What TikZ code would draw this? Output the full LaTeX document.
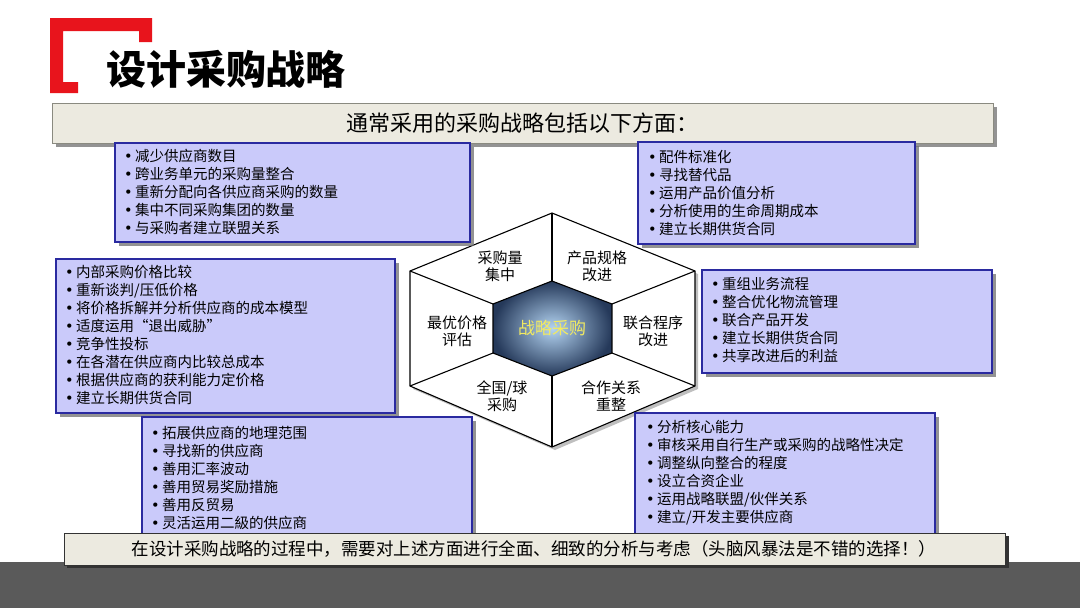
\documentclass[tikz,border=0pt]{standalone}
\usepackage{fontspec}
\usetikzlibrary{calc}
\setmainfont{Noto Sans CJK SC}
\newfontfamily\bulletfont{DejaVu Sans}
\newcommand{\bul}{{\bulletfont •}\,}
\definecolor{brandred}{HTML}{E8141C}
\definecolor{bandgray}{HTML}{5A5A5A}
\definecolor{bannerfill}{HTML}{ECEAE0}
\definecolor{bannerline}{HTML}{8A8A80}
\definecolor{boxfill}{HTML}{CACAFA}
\definecolor{boxline}{HTML}{2A2AA0}
\definecolor{shadowgray}{HTML}{707070}
\definecolor{hexdark}{HTML}{25395A}
\definecolor{hexlight}{HTML}{B4D4F2}
\definecolor{hextext}{HTML}{F2EA60}
\tikzset{
  boxshadow/.style={fill=shadowgray, opacity=0.75},
  listbox/.style={draw=boxline, fill=boxfill, line width=1.4pt},
  listtext/.style={anchor=north west, inner sep=0pt, align=left,
    font=\fontsize{14.5}{18}\selectfont},
  banner/.style={draw=bannerline, fill=bannerfill, line width=0.6pt},
  hexlabel/.style={align=center, inner sep=0pt, font=\fontsize{15}{17}\selectfont},
  hexline/.style={draw=black, line width=1.1pt, line join=miter},
}
\begin{document}
\begin{tikzpicture}[x=1pt,y=-1pt]
\useasboundingbox (0,0) rectangle (1080,608);
\fill[white] (0,0) rectangle (1080,608);
\fill[bandgray] (0,562) rectangle (1080,608);

% red bracket
\fill[brandred] (50,18) -- (152,18) -- (152,42) -- (139,42) -- (139,31) -- (63,31)
  -- (63,82) -- (78,82) -- (78,93) -- (50,93) -- cycle;

% title
\node[text=black, font=\fontsize{40}{44}\selectfont\bfseries, inner sep=0pt] (title) at (226,69) {设计采购战略};

% top banner
\fill[boxshadow] (56,107) rectangle (997,147);
\draw[banner] (52,103) rectangle (993,143);
\node[font=\fontsize{22}{24}\selectfont, inner sep=0pt] (banner) at (522,123) {通常采用的采购战略包括以下方面：};

% hexagon
\coordinate (o1) at (552,213);
\coordinate (o2) at (695,271);
\coordinate (o3) at (695,386);
\coordinate (o4) at (552,447);
\coordinate (o5) at (410,386);
\coordinate (o6) at (410,271);
\coordinate (i1) at (552,281);
\coordinate (i2) at (612,304);
\coordinate (i3) at (612,353);
\coordinate (i4) at (552,376);
\coordinate (i5) at (493,353);
\coordinate (i6) at (493,304);
\fill[black!25] ($(o1)+(3,3)$) -- ($(o2)+(3,3)$) -- ($(o3)+(3,3)$) -- ($(o4)+(3,3)$) -- ($(o5)+(3,3)$) -- ($(o6)+(3,3)$) -- cycle;
\filldraw[hexline, fill=white] (o1) -- (o2) -- (o3) -- (o4) -- (o5) -- (o6) -- cycle;
\shade[inner color=hexlight, outer color=hexdark] (i1) -- (i2) -- (i3) -- (i4) -- (i5) -- (i6) -- cycle;
\draw[hexline] (i1) -- (i2) -- (i3) -- (i4) -- (i5) -- (i6) -- cycle;
\foreach \k in {1,...,6} { \draw[hexline] (i\k) -- (o\k); }
\node[text=hextext, font=\fontsize{17}{19}\selectfont, inner sep=0pt] (core) at (552,328) {战略采购};
\node[hexlabel] (h1) at (500,266) {采购量\\集中};
\node[hexlabel] (h2) at (597,266) {产品规格\\改进};
\node[hexlabel] (h3) at (457,331) {最优价格\\评估};
\node[hexlabel] (h4) at (653,331) {联合程序\\改进};
\node[hexlabel] (h5) at (502,396) {全国/球\\采购};
\node[hexlabel] (h6) at (611,396) {合作关系\\重整};

% top-left box
\fill[boxshadow] (119,147) rectangle (474,246);
\draw[listbox] (115,143) rectangle (470,242);
\node[listtext] (tl) at (124,149.5) {\bul 减少供应商数目\\\bul 跨业务单元的采购量整合\\\bul 重新分配向各供应商采购的数量\\\bul 集中不同采购集团的数量\\\bul 与采购者建立联盟关系};

% top-right box
\fill[boxshadow] (642,146) rectangle (919,248);
\draw[listbox] (638,142) rectangle (915,244);
\node[listtext] (tr) at (648,150.5) {\bul 配件标准化\\\bul 寻找替代品\\\bul 运用产品价值分析\\\bul 分析使用的生命周期成本\\\bul 建立长期供货合同};

% middle-left box
\fill[boxshadow] (60,263) rectangle (399,417);
\draw[listbox] (56,259) rectangle (395,413);
\node[listtext] (ml) at (65,265.5) {\bul 内部采购价格比较\\\bul 重新谈判/压低价格\\\bul 将价格拆解并分析供应商的成本模型\\\bul 适度运用“退出威胁”\\\bul 竞争性投标\\\bul 在各潜在供应商内比较总成本\\\bul 根据供应商的获利能力定价格\\\bul 建立长期供货合同};

% middle-right box
\fill[boxshadow] (706,274) rectangle (996,377);
\draw[listbox] (702,270) rectangle (992,373);
\node[listtext] (mr) at (711,277.5) {\bul 重组业务流程\\\bul 整合优化物流管理\\\bul 联合产品开发\\\bul 建立长期供货合同\\\bul 共享改进后的利益};

% bottom-left box
\fill[boxshadow] (146,421) rectangle (476,540);
\draw[listbox] (142,417) rectangle (472,540);
\node[listtext] (bl) at (151,425.5) {\bul 拓展供应商的地理范围\\\bul 寻找新的供应商\\\bul 善用汇率波动\\\bul 善用贸易奖励措施\\\bul 善用反贸易\\\bul 灵活运用二級的供应商};

% bottom-right box
\fill[boxshadow] (639,417) rectangle (939,540);
\draw[listbox] (635,413) rectangle (935,540);
\node[listtext] (br) at (646,420.5) {\bul 分析核心能力\\\bul 审核采用自行生产或采购的战略性决定\\\bul 调整纵向整合的程度\\\bul 设立合资企业\\\bul 运用战略联盟/伙伴关系\\\bul 建立/开发主要供应商};

% bottom banner
\fill[black!80] (67,536) rectangle (1009,568);
\draw[banner, draw=black!80, line width=1pt] (64,533) rectangle (1005,565);
\node[font=\fontsize{17.5}{20}\selectfont, inner sep=0pt] (footer) at (534,549) {在设计采购战略的过程中，需要对上述方面进行全面、细致的分析与考虑（头脑风暴法是不错的选择！）};
\end{tikzpicture}
\end{document}
